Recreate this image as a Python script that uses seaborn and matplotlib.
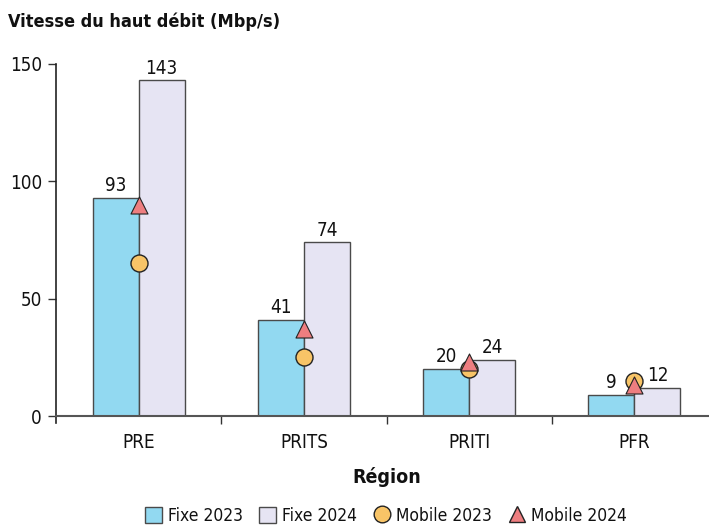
import matplotlib
matplotlib.use("Agg")
import matplotlib.pyplot as plt
import seaborn as sns
import pandas as pd
from matplotlib.lines import Line2D
from matplotlib.patches import Patch

regions = ["PRE", "PRITS", "PRITI", "PFR"]
fixe_2023 = [93, 41, 20, 9]
fixe_2024 = [143, 74, 24, 12]
mobile_2023 = [65, 25, 20, 15]
mobile_2024 = [90, 37, 23, 13]
y_ticks = [0, 50, 100, 150]

c_f23 = "#92D9F1"
c_f24 = "#E6E4F3"
c_m23 = "#F8C467"
c_m24 = "#EE7E80"
edge = "#4a4a4a"

sns.set_theme(style="white")
plt.rcParams["font.family"] = ["DejaVu Sans"]
plt.rcParams["font.stretch"] = "condensed"
plt.rcParams["text.color"] = "#111111"
plt.rcParams["xtick.color"] = "#111111"
plt.rcParams["ytick.color"] = "#111111"
plt.rcParams["axes.labelcolor"] = "#111111"

fig = plt.figure(figsize=(7.09, 5.27), dpi=100)
ax = fig.add_axes([56/709, 111/527, 661/709, 352/527])

bars = pd.DataFrame({
    "Région": regions * 2,
    "val": fixe_2023 + fixe_2024,
    "Série": ["Fixe 2023"] * 4 + ["Fixe 2024"] * 4,
})
sns.barplot(data=bars, x="Région", y="val", hue="Série", order=regions,
            palette=[c_f23, c_f24], width=0.558, gap=0, edgecolor=edge,
            linewidth=1.0, ax=ax, legend=False, saturation=1)

for cont in ax.containers:
    ax.bar_label(cont, fmt="%d", padding=2, fontsize=13.5, color="#111111")

pos = list(range(len(regions)))
sns.scatterplot(x=pos, y=mobile_2023, marker="o", s=150, color=c_m23,
                edgecolor="#222222", linewidth=1.0, ax=ax, zorder=5, legend=False)
sns.scatterplot(x=pos, y=mobile_2024, marker="^", s=150, color=c_m24,
                edgecolor="#222222", linewidth=0.8, ax=ax, zorder=6, legend=False)

ax.set_xlim(-0.5, 3.5)
ax.set_ylim(0, 150)
ax.set_yticks(y_ticks)
ax.set_yticklabels([str(t) for t in y_ticks], fontsize=13.5)
ax.set_xticks(pos)
ax.set_xticklabels(regions, fontsize=13.5)
ax.set_xticks([0.5, 1.5, 2.5], minor=True)
ax.tick_params(axis="x", which="major", length=0, pad=12)
ax.tick_params(axis="x", which="minor", length=6, width=1, color="#333333", direction="out", bottom=True)
ax.tick_params(axis="y", length=6, width=1, color="#333333", direction="out", left=True, pad=4)
for s in ["top", "right"]:
    ax.spines[s].set_visible(False)
ax.spines["left"].set_color("#222222")
ax.spines["left"].set_linewidth(1.2)
ax.spines["left"].set_bounds(-3, 150)
ax.spines["bottom"].set_color("#555555")
ax.spines["bottom"].set_linewidth(1.5)
ax.set_ylabel("")
ax.set_xlabel("Région", fontsize=14, fontweight="bold", labelpad=11)

fig.text(8/709, 1 - 22/527, "Vitesse du haut débit (Mbp/s)", fontsize=13,
         fontweight="bold", va="center", ha="left")

handles = [
    Patch(facecolor=c_f23, edgecolor=edge, label="Fixe 2023"),
    Patch(facecolor=c_f24, edgecolor=edge, label="Fixe 2024"),
    Line2D([], [], marker="o", linestyle="none", markersize=12, markerfacecolor=c_m23,
           markeredgecolor="#222222", label="Mobile 2023"),
    Line2D([], [], marker="^", linestyle="none", markersize=12, markerfacecolor=c_m24,
           markeredgecolor="#222222", label="Mobile 2024"),
]
fig.legend(handles=handles, loc="center", bbox_to_anchor=(386/709, 1 - 516/527), ncol=4,
           frameon=False, fontsize=12.5, handlelength=1.0, handleheight=1.0,
           handletextpad=0.35, columnspacing=0.9, borderaxespad=0)

fig.savefig("out.png", dpi=100)
